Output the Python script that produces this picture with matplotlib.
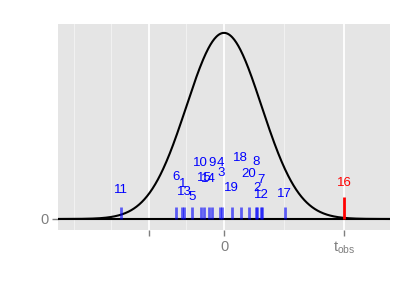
import numpy as np
import matplotlib.pyplot as plt

plt.rcParams['font.family'] = ['Liberation Sans', 'DejaVu Sans']

# simulated statistics (blue) and observed statistic (red)
labels = ['11', '6', '1', '13', '5', '10', '15', '14', '9', '4', '3',
          '19', '18', '20', '8', '2', '7', '12', '17']
t_sim = [-2.755, -1.28, -1.107, -1.053, -0.861, -0.621, -0.52, -0.413, -0.328,
         -0.107, -0.067, 0.205, 0.44, 0.667, 0.84, 0.88, 0.973, 1.0, 1.613]
label_y = [0.062, 0.091, 0.075, 0.058, 0.048, 0.121, 0.088, 0.086, 0.120,
           0.121, 0.099, 0.066, 0.130, 0.096, 0.123, 0.067, 0.084, 0.051, 0.053]
t_obs = 3.2
obs_label = '16'
obs_label_y = 0.077

xmin, xmax = -4.42, 4.42
x = np.linspace(xmin, xmax, 500)
dens = np.exp(-x ** 2 / 2) / np.sqrt(2 * np.pi)

fig = plt.figure(figsize=(4.15, 2.94), dpi=100)
ax = fig.add_axes([0.1398, 0.2177, 0.8, 0.7007])
ax.set_facecolor('#E5E5E5')
for s in ax.spines.values():
    s.set_visible(False)

ax.set_xlim(xmin, xmax)
ax.set_ylim(-0.0236, 0.418)

ax.set_xticks([-2, 0, t_obs])
ax.set_xticklabels(['', '0', r'$\mathregular{t_{obs}}$'])
ax.set_xticks([-4, -3, -1, 1.6], minor=True)
ax.set_yticks([0])
ax.set_yticklabels(['0'])
ax.tick_params(axis='both', which='major', colors='#7F7F7F', labelcolor='#7F7F7F',
               labelsize=10.5, length=4, width=1, pad=3)
ax.tick_params(axis='x', which='minor', length=0)
ax.grid(True, which='major', color='white', lw=1.3)
ax.grid(True, which='minor', axis='x', color='#F2F2F2', lw=0.7)
ax.set_axisbelow(True)

ax.axhline(0, color='black', lw=1.5)
ax.plot(x, dens, color='black', lw=1.5)

ax.vlines(t_sim, 0, 0.026, color='#0000FF', alpha=0.6, lw=2)
for t, lab, yy in zip(t_sim, labels, label_y):
    ax.text(t, yy, lab, color='#0000FF', fontsize=9.5, ha='center', va='center')

ax.vlines([t_obs], 0, 0.047, color='#FF0000', lw=2)
ax.text(t_obs, obs_label_y, obs_label, color='#FF0000', fontsize=9.5,
        ha='center', va='center')

fig.savefig('out.png', dpi=100)
